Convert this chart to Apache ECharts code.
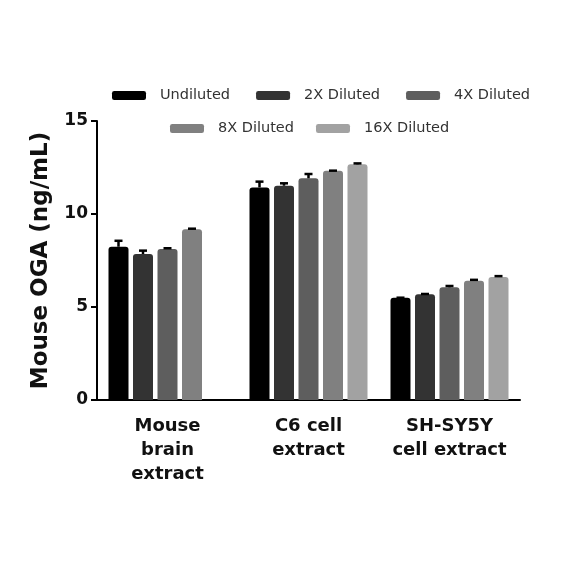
<!DOCTYPE html>
<html>
<head>
<meta charset="utf-8">
<script src="https://cdn.jsdelivr.net/npm/echarts@6/dist/echarts.min.js"></script>
<style>
  html, body { margin: 0; padding: 0; background: #fff; }
  #chart { width: 584px; height: 584px; }
</style>
</head>
<body>
<div id="chart"></div>
<script>
// categories along the x axis
let categories = ['Mouse\nbrain\nextract', 'C6 cell\nextract', 'SH-SY5Y\ncell extract'];
let seriesNames = ['Undiluted', '2X Diluted', '4X Diluted', '8X Diluted', '16X Diluted'];
let seriesColors = ['#000000', '#333333', '#5e5e5e', '#808080', '#a2a2a2'];

// means (ng/mL), null = not measured
let undiluted = [8.24, 11.43, 5.50];
let diluted2x = [7.85, 11.52, 5.68];
let diluted4x = [8.12, 11.92, 6.06];
let diluted8x = [9.18, 12.33, 6.41];
let diluted16x = [null, 12.67, 6.61];

// upper error (SEM) values
let undilutedErr = [0.32, 0.31, 0.0];
let diluted2xErr = [0.18, 0.13, 0.02];
let diluted4xErr = [0.04, 0.23, 0.07];
let diluted8xErr = [0.03, 0.0, 0.05];
let diluted16xErr = [null, 0.05, 0.05];

let yTicks = [0, 5, 10, 15];

let means = [undiluted, diluted2x, diluted4x, diluted8x, diluted16x];
let errs = [undilutedErr, diluted2xErr, diluted4xErr, diluted8xErr, diluted16xErr];

let BAR_W = 20;
let BAR_GAP = 4.5;
let FONT = 'DejaVu Sans';

let chart = echarts.init(document.getElementById('chart'));

let barSeries = seriesNames.map((name, i) => ({
    name: name,
    type: 'bar',
    barWidth: BAR_W,
    barGap: (BAR_GAP / BAR_W * 100) + '%',
    itemStyle: { color: seriesColors[i], borderRadius: [3, 3, 0, 0] },
    data: means[i].map(v => v == null ? '-' : v),
    z: 2
}));

// error bars drawn via custom series
let errSeries = seriesNames.map((name, i) => ({
    name: name + ' err',
    type: 'custom',
    z: 3,
    data: means[i].map((v, k) => v == null ? null : [k, v, v + errs[i][k]]).filter(d => d),
    encode: { x: 0, y: [1, 2] },
    renderItem: (params, api) => {
        let k = api.value(0);
        let base = api.coord([k, api.value(1)]);
        let top = api.coord([k, api.value(2)]);
        let n = seriesNames.length;
        let total = n * BAR_W + (n - 1) * BAR_GAP;
        let x = base[0] - total / 2 + i * (BAR_W + BAR_GAP) + BAR_W / 2;
        let style = { stroke: '#000', lineWidth: 2.5 };
        return {
            type: 'group',
            children: [
                { type: 'line', shape: { x1: x, y1: base[1], x2: x, y2: top[1] }, style: style },
                { type: 'line', shape: { x1: x - 4, y1: top[1], x2: x + 4, y2: top[1] }, style: style }
            ]
        };
    }
}));

let legendCommon = {
    itemWidth: 34,
    itemHeight: 9,
    itemGap: 22,
    icon: 'roundRect',
    textStyle: { fontFamily: FONT, fontSize: 14.5, color: '#333', padding: [0, 0, 0, 9] }
};

let option = {
    animation: false,
    legend: [
        { ...legendCommon, itemGap: 26, data: seriesNames.slice(0, 3), left: 107, top: 83 },
        { ...legendCommon, data: seriesNames.slice(3), left: 165, top: 116 }
    ],
    grid: { left: 97, right: 64, top: 121, bottom: 184, containLabel: false },
    xAxis: {
        type: 'category',
        data: categories,
        axisLine: { lineStyle: { color: '#000', width: 2 } },
        axisTick: { alignWithLabel: true, length: 6, lineStyle: { color: '#000', width: 2 } },
        axisLabel: {
            fontFamily: FONT, fontSize: 18, fontWeight: 'bold', color: '#111',
            lineHeight: 24, margin: 14, interval: 0
        }
    },
    yAxis: {
        type: 'value',
        min: yTicks[0],
        max: yTicks[yTicks.length - 1],
        interval: 5,
        name: 'Mouse OGA (ng/mL)',
        nameLocation: 'middle',
        nameGap: 44,
        nameTextStyle: { fontFamily: FONT, fontSize: 23, fontWeight: 'bold', color: '#111' },
        splitLine: { show: false },
        axisLine: { show: true, lineStyle: { color: '#000', width: 2 } },
        axisTick: { show: true, length: 6, lineStyle: { color: '#000', width: 2 } },
        axisLabel: { fontFamily: FONT, fontSize: 17, fontWeight: 'bold', color: '#111', margin: 9 }
    },
    series: [...barSeries, ...errSeries]
};

chart.setOption(option);
</script>
</body>
</html>
